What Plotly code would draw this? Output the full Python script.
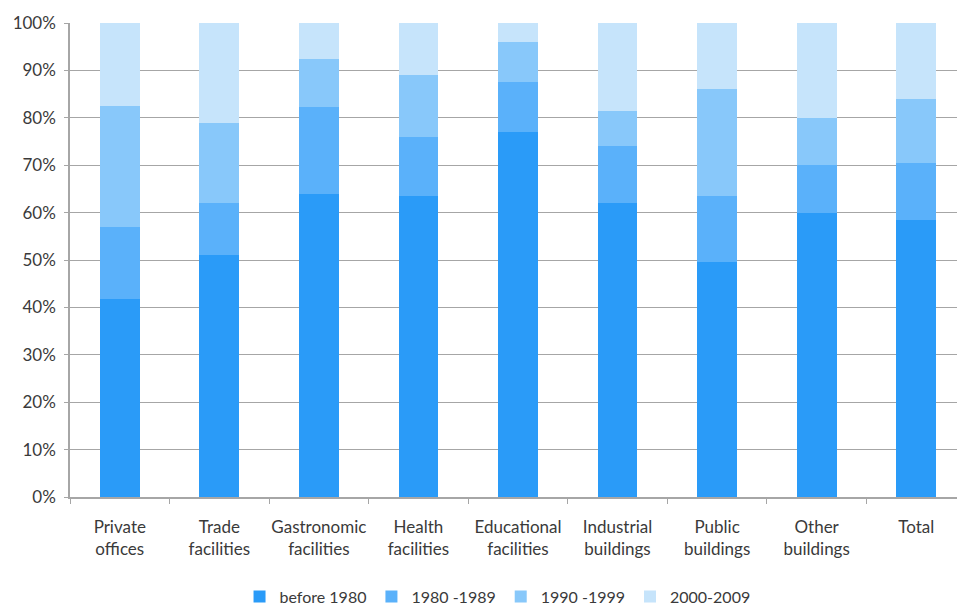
import plotly.graph_objects as go

categories = [
    "Private<br>offices", "Trade<br>facilities", "Gastronomic<br>facilities",
    "Health<br>facilities", "Educational<br>facilities", "Industrial<br>buildings",
    "Public<br>buildings", "Other<br>buildings", "Total",
]

before_1980 = [41.8, 51.0, 64.0, 63.5, 77.0, 62.0, 49.5, 60.0, 58.5]
y1980_1989 = [15.2, 11.0, 18.3, 12.5, 10.5, 12.0, 14.0, 10.0, 12.0]
y1990_1999 = [25.5, 17.0, 10.2, 13.0, 8.5, 7.5, 22.5, 10.0, 13.5]
y2000_2009 = [17.5, 21.0, 7.5, 11.0, 4.0, 18.5, 14.0, 20.0, 16.0]

series = [
    ("before 1980", before_1980, "#2a9bf8"),
    ("1980 -1989", y1980_1989, "#5ab1fa"),
    ("1990 -1999", y1990_1999, "#88c8fa"),
    ("2000-2009", y2000_2009, "#c6e4fb"),
]

fig = go.Figure()
for name, vals, color in series:
    fig.add_trace(go.Bar(
        x=categories, y=vals, name=name,
        marker=dict(color=color, line=dict(width=0)),
    ))

font_family = "Lato, Open Sans, sans-serif"
fig.update_layout(
    barmode="stack",
    bargap=0.6,
    width=957, height=606,
    margin=dict(l=70, r=0, t=23, b=109, autoexpand=False),
    paper_bgcolor="white",
    plot_bgcolor="white",
    font=dict(family=font_family, size=16, color="#3a3a3a"),
    showlegend=True,
    legend=dict(
        orientation="h", x=0.482, xanchor="center", y=-0.21, yanchor="middle",
        font=dict(size=16, color="#3a3a3a"), traceorder="normal",
        itemwidth=30, tracegroupgap=0,
    ),
    xaxis=dict(
        range=[-0.5, 8.41],
        showline=True, linecolor="#a6a6a6", linewidth=1.5,
        ticks="outside", tickson="boundaries", ticklen=5, tickcolor="#a6a6a6",
        showgrid=False, tickfont=dict(size=17), tickangle=0, automargin=False,
        ticklabelstandoff=14,
    ),
    yaxis=dict(
        range=[0, 100], tickvals=list(range(0, 101, 10)),
        ticktext=[f"{v}%" for v in range(0, 101, 10)],
        showline=True, linecolor="#a6a6a6", linewidth=1.5,
        ticks="outside", ticklen=4, tickcolor="#a6a6a6",
        showgrid=True, gridcolor="#a6a6a6", gridwidth=1.2,
        tickfont=dict(size=17), zeroline=False, automargin=False,
        ticklabelstandoff=5,
    ),
)

fig.write_html("out.html")
